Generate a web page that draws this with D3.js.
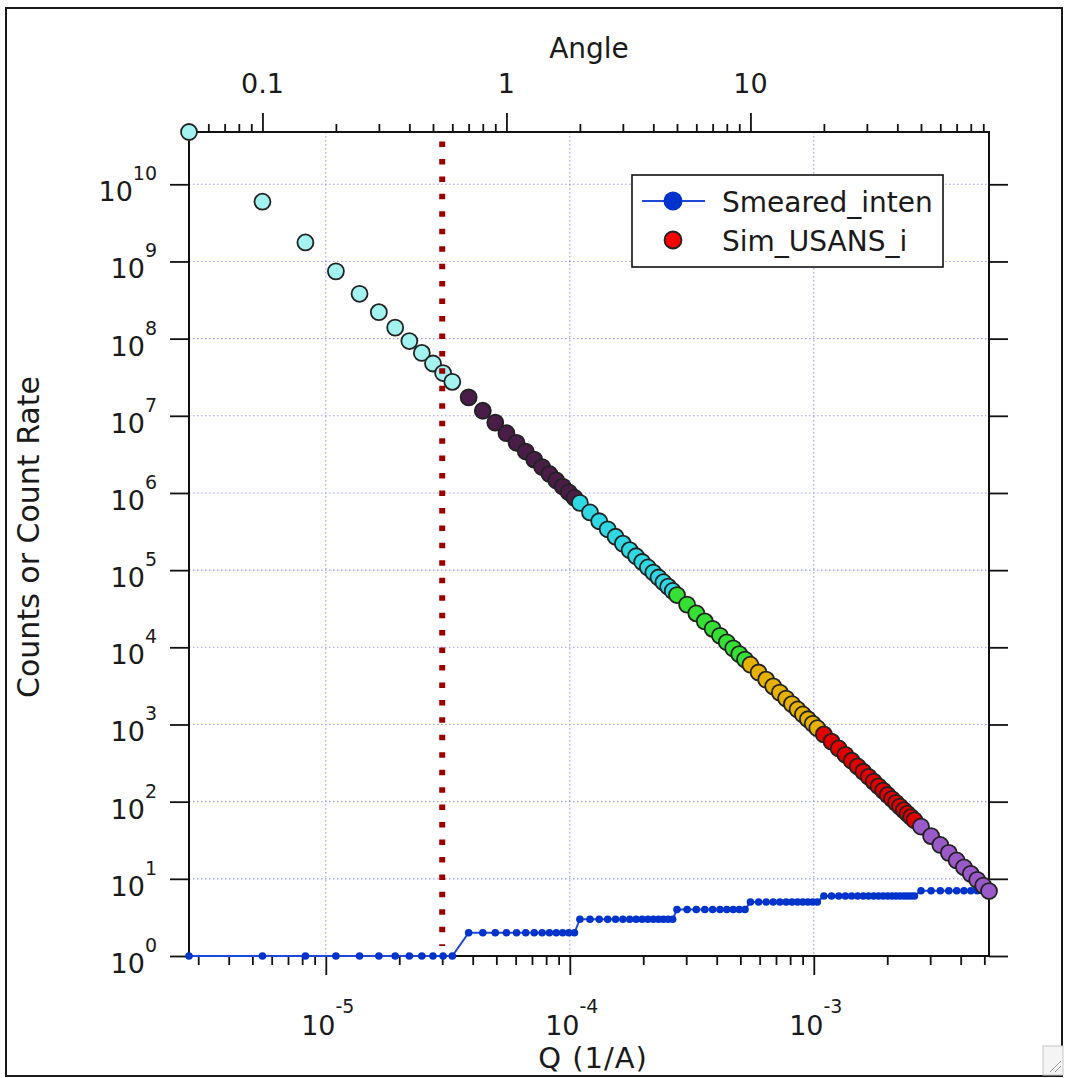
<!DOCTYPE html>
<html><head><meta charset="utf-8">
<script src="https://cdn.jsdelivr.net/npm/d3@7"></script>
<style>
body{margin:0;background:#fff;}
svg{display:block;}
text{font-family:"DejaVu Sans",sans-serif;fill:#1a1a1a;}
</style>
</head><body>
<svg id="chart" width="1065" height="1078"></svg>
<script>
// ---- data ----
const qSeg1 = [2.75e-6,5.5e-6,8.25e-6,1.1e-5,1.375e-5,1.65e-5,1.925e-5,2.2e-5,2.475e-5,2.75e-5,3.025e-5,3.3e-5];
const iSeg1 = [4.76e10,5.95e9,1.763e9,7.44e8,3.81e8,2.204e8,1.388e8,9.30e7,6.53e7,4.76e7,3.58e7,2.755e7];
const qSeg2 = [3.85e-5,4.4e-5,4.95e-5,5.5e-5,6.05e-5,6.6e-5,7.15e-5,7.7e-5,8.25e-5,8.8e-5,9.35e-5,9.9e-5,1.045e-4];
const iSeg2 = [1.735e7,1.162e7,8.16e6,5.95e6,4.47e6,3.44e6,2.708e6,2.168e6,1.763e6,1.453e6,1.211e6,1.020e6,8.67e5];
const qSeg3 = [1.1e-4,1.21e-4,1.32e-4,1.43e-4,1.54e-4,1.65e-4,1.76e-4,1.87e-4,1.98e-4,2.09e-4,2.2e-4,2.31e-4,2.42e-4,2.53e-4,2.64e-4];
const iSeg3 = [7.44e5,5.59e5,4.30e5,3.385e5,2.710e5,2.204e5,1.816e5,1.514e5,1.275e5,1.084e5,9.30e4,8.03e4,6.98e4,6.11e4,5.38e4];
const qSeg4 = [2.75e-4,3.025e-4,3.3e-4,3.575e-4,3.85e-4,4.125e-4,4.4e-4,4.675e-4,4.95e-4,5.225e-4];
const iSeg4 = [4.76e4,3.576e4,2.755e4,2.167e4,1.735e4,1.410e4,1.162e4,9.69e3,8.16e3,6.94e3];
const qSeg5 = [5.5e-4,5.94e-4,6.38e-4,6.82e-4,7.26e-4,7.7e-4,8.14e-4,8.58e-4,9.02e-4,9.46e-4,9.9e-4,1.034e-3];
const iSeg5 = [5.95e3,4.72e3,3.81e3,3.12e3,2.587e3,2.168e3,1.835e3,1.567e3,1.349e3,1.169e3,1.020e3,895];
const qSeg6 = [1.1e-3,1.1825e-3,1.265e-3,1.3475e-3,1.43e-3,1.5125e-3,1.595e-3,1.6775e-3,1.76e-3,1.8425e-3,1.925e-3,2.0075e-3,2.09e-3,2.1725e-3,2.255e-3,2.3375e-3,2.42e-3,2.5025e-3,2.585e-3];
const iSeg6 = [744,599,489,405,339,286,244,210,182,158,139,122,108,96.5,86.3,77.5,69.8,63.2,57.3];
const qSeg7 = [2.75e-3,3.025e-3,3.3e-3,3.575e-3,3.85e-3,4.125e-3,4.4e-3,4.675e-3,4.95e-3,5.225e-3];
const iSeg7 = [47.6,35.8,27.5,21.7,17.3,14.1,11.6,9.69,8.16,6.94];
const smearedLevels = [1,2,3,4,5,6,7];          // Smeared_inten value per segment
const segColors = ["#a3f4f0","#4a1d48","#2fd8e2","#33e033","#e6b100","#e00000","#9a5bc9"];

const yTickValues = [1,1e1,1e2,1e3,1e4,1e5,1e6,1e7,1e8,1e9,1e10];
const yTickExps   = ["0","1","2","3","4","5","6","7","8","9","10"];
const xTickValues = [1e-5,1e-4,1e-3];
const xTickExps   = ["-5","-4","-3"];
const angleTickValues = [0.1,1,10];
const angleTickLabels = ["0.1","1","10"];
const qPerAngle = 5.5e-5;     // Q corresponding to angle 1
const cutoffQ = 3e-5;         // dotted red marker
const legendLabels = ["Smeared_inten","Sim_USANS_i"];

// ---- build ----
const qSegs = [qSeg1,qSeg2,qSeg3,qSeg4,qSeg5,qSeg6,qSeg7];
const iSegs = [iSeg1,iSeg2,iSeg3,iSeg4,iSeg5,iSeg6,iSeg7];
const points = [];
qSegs.forEach((qs,s)=>qs.forEach((q,j)=>points.push({q, i:iSegs[s][j], seg:s, sm:smearedLevels[s]})));

const L=189, R=989, T=132, B=956;
const svg = d3.select("#chart");

const x = d3.scaleLog().domain(d3.extent(points,d=>d.q)).range([L,R]);
const y = d3.scaleLog().domain([d3.min(points,d=>d.sm), d3.max(points,d=>d.i)]).range([B,T]);
const xa = d3.scaleLog().domain(x.domain().map(q=>q/qPerAngle)).range([L,R]);

// outer window frame
svg.append("rect").attr("x",6).attr("y",8).attr("width",1056).attr("height",1068)
  .attr("fill","none").attr("stroke","#1a1a1a").attr("stroke-width",2);
// resize grip
const grip = svg.append("g");
grip.append("rect").attr("x",1043).attr("y",1046).attr("width",20).attr("height",29)
  .attr("fill","#f4f4f4").attr("stroke","#c8c8c8");
grip.append("line").attr("x1",1050).attr("y1",1072).attr("x2",1061).attr("y2",1061).attr("stroke","#999");
grip.append("line").attr("x1",1055).attr("y1",1072).attr("x2",1061).attr("y2",1066).attr("stroke","#999");

// grid
const grid = svg.append("g").attr("stroke","#9a9aff").attr("stroke-width",1.1).attr("stroke-dasharray","1.5,2.5");
grid.selectAll("line.h").data(yTickValues.slice(1)).join("line")
  .attr("x1",L).attr("x2",R).attr("y1",d=>y(d)).attr("y2",d=>y(d));
grid.selectAll("line.v").data(xTickValues).join("line")
  .attr("x1",d=>x(d)).attr("x2",d=>x(d)).attr("y1",T).attr("y2",B);

// axes
function styleAxis(g){ g.select(".domain").remove(); g.selectAll("line").attr("stroke","#111").attr("stroke-width",1.8); }
const xMinor = x.ticks().filter(v=>!xTickValues.some(m=>Math.abs(m-v)/m<1e-6));
svg.append("g").attr("transform",`translate(0,${B})`).call(d3.axisBottom(x).tickValues(xTickValues).tickSize(19).tickFormat("")).call(styleAxis);
svg.append("g").attr("transform",`translate(0,${B})`).call(d3.axisBottom(x).tickValues(xMinor).tickSize(9).tickFormat("")).call(styleAxis);
const aMinor = xa.ticks().filter(v=>!angleTickValues.some(m=>Math.abs(m-v)/m<1e-6));
svg.append("g").attr("transform",`translate(0,${T})`).call(d3.axisTop(xa).tickValues(angleTickValues).tickSize(19).tickFormat("")).call(styleAxis);
svg.append("g").attr("transform",`translate(0,${T})`).call(d3.axisTop(xa).tickValues(aMinor).tickSize(8).tickFormat("")).call(styleAxis);
svg.append("g").attr("transform",`translate(${L},0)`).call(d3.axisLeft(y).tickValues(yTickValues).tickSize(19).tickFormat("")).call(styleAxis);
svg.append("g").attr("transform",`translate(${R},0)`).call(d3.axisRight(y).tickValues(yTickValues).tickSize(19).tickFormat("")).call(styleAxis);
svg.append("rect").attr("x",L).attr("y",T).attr("width",R-L).attr("height",B-T)
  .attr("fill","none").attr("stroke","#111").attr("stroke-width",2);

// tick labels
const yl = svg.append("g");
yTickValues.forEach((v,k)=>{
  const t = yl.append("text").attr("x",157).attr("y",y(v)+17).attr("text-anchor","end");
  t.append("tspan").attr("font-size",27).text("10");
  t.append("tspan").attr("font-size",19).attr("dy",-21).text(yTickExps[k]);
});
xTickValues.forEach((v,k)=>{
  const t = svg.append("text").attr("x",x(v)+2).attr("y",1035).attr("text-anchor","middle");
  t.append("tspan").attr("font-size",27).text("10");
  t.append("tspan").attr("font-size",19).attr("dy",-22).text(xTickExps[k]);
});
angleTickValues.forEach((v,k)=>{
  svg.append("text").attr("x",xa(v)).attr("y",93).attr("text-anchor","middle").attr("font-size",27).text(angleTickLabels[k]);
});

// axis titles
svg.append("text").attr("x",589).attr("y",58).attr("text-anchor","middle").attr("font-size",28).text("Angle");
svg.append("text").attr("x",593).attr("y",1068).attr("text-anchor","middle").attr("font-size",29).attr("letter-spacing",1).text("Q (1/A)");
svg.append("text").attr("transform","translate(39,537) rotate(-90)").attr("text-anchor","middle").attr("font-size",30).text("Counts or Count Rate");

// Smeared_inten line + markers
svg.append("path").datum(points)
  .attr("d",d3.line().x(d=>x(d.q)).y(d=>y(d.sm)))
  .attr("fill","none").attr("stroke","#1f48d8").attr("stroke-width",2);
svg.append("g").selectAll("circle").data(points).join("circle")
  .attr("cx",d=>x(d.q)).attr("cy",d=>y(d.sm)).attr("r",3.8).attr("fill","#0033cc");

// Sim_USANS_i markers
svg.append("g").selectAll("circle").data(points).join("circle")
  .attr("cx",d=>x(d.q)).attr("cy",d=>y(d.i)).attr("r",8)
  .attr("fill",d=>segColors[d.seg]).attr("stroke","#222").attr("stroke-width",1.8);

// dotted cutoff line
svg.append("line").attr("x1",x(cutoffQ)).attr("x2",x(cutoffQ)).attr("y1",T+9.5).attr("y2",B-10)
  .attr("stroke","#9a0000").attr("stroke-width",6).attr("stroke-dasharray","5.5,11.95");

// legend
const lg = svg.append("g");
lg.append("rect").attr("x",632).attr("y",175).attr("width",311).attr("height",92)
  .attr("fill","#fff").attr("stroke","#111").attr("stroke-width",1.6);
lg.append("line").attr("x1",642).attr("x2",705).attr("y1",201).attr("y2",201).attr("stroke","#1f48d8").attr("stroke-width",2);
lg.append("circle").attr("cx",673).attr("cy",201).attr("r",9.5).attr("fill","#0033cc");
lg.append("circle").attr("cx",673).attr("cy",240).attr("r",8.5).attr("fill","#ff0000").attr("stroke","#222").attr("stroke-width",1.8);
lg.append("text").attr("x",722).attr("y",212).attr("font-size",28).text(legendLabels[0]);
lg.append("text").attr("x",722).attr("y",251).attr("font-size",28).text(legendLabels[1]);
</script>
</body></html>
